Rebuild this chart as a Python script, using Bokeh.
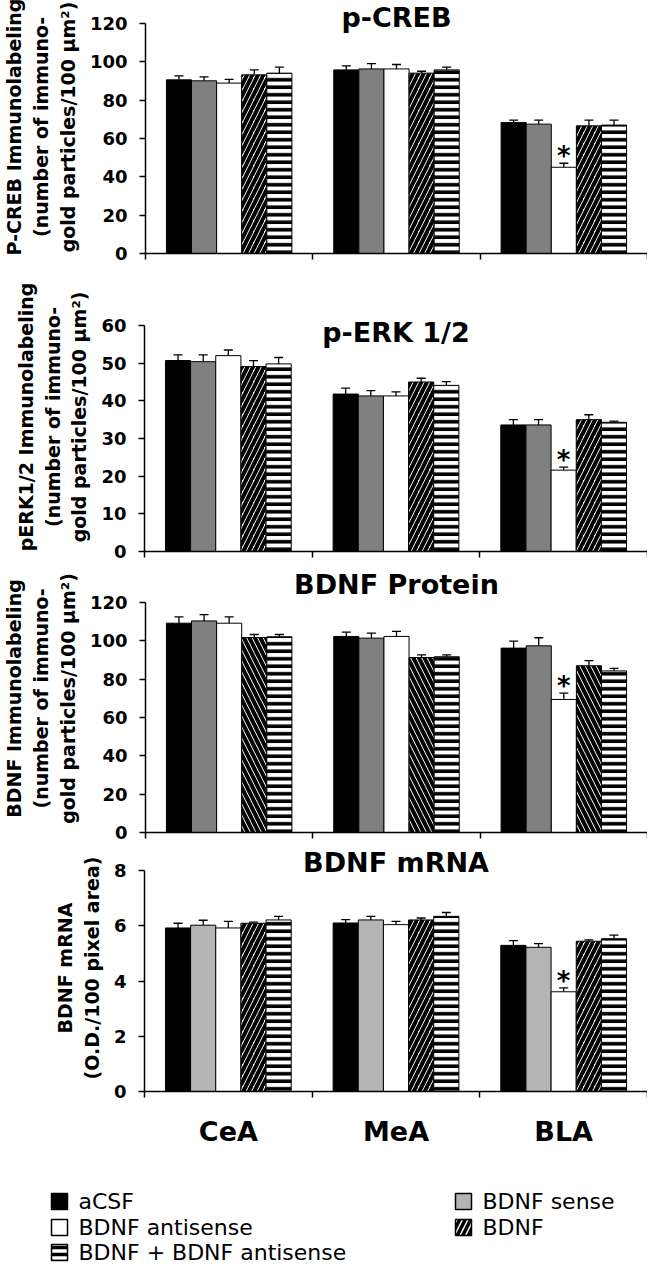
import numpy as np
from bokeh.plotting import figure
from bokeh.layouts import column
from bokeh.models import (ColumnDataSource, FixedTicker, LinearAxis, Range1d,
                          Whisker, TeeHead, Label)
from bokeh.core.properties import value
from bokeh.embed import file_html
from bokeh.resources import INLINE

regions = ["CeA", "MeA", "BLA"]
series = ["aCSF", "BDNF sense", "BDNF antisense", "BDNF", "BDNF + BDNF antisense"]

# ---- p-CREB (particles / 100 um2) ----
pcreb_acsf = [90.6, 95.8, 68.3]
pcreb_sense = [90.1, 96.3, 67.5]
pcreb_anti = [88.9, 96.3, 45.0]
pcreb_bdnf = [93.2, 94.1, 66.6]
pcreb_both = [94.1, 95.8, 67.0]
pcreb_acsf_err = [2.1, 2.1, 1.3]
pcreb_sense_err = [2.1, 2.8, 2.1]
pcreb_anti_err = [1.9, 2.3, 2.1]
pcreb_bdnf_err = [2.6, 1.0, 3.0]
pcreb_both_err = [3.1, 1.4, 2.6]

# ---- p-ERK 1/2 ----
perk_acsf = [50.7, 41.8, 33.6]
perk_sense = [50.4, 41.3, 33.6]
perk_anti = [52.0, 41.3, 21.6]
perk_bdnf = [49.1, 45.0, 35.0]
perk_both = [49.8, 44.1, 34.3]
perk_acsf_err = [1.5, 1.6, 1.4]
perk_sense_err = [1.8, 1.4, 1.4]
perk_anti_err = [1.5, 1.1, 0.8]
perk_bdnf_err = [1.6, 1.0, 1.3]
perk_both_err = [1.7, 1.0, 0.3]

# ---- BDNF protein ----
prot_acsf = [109.2, 102.3, 96.2]
prot_sense = [110.4, 101.4, 97.4]
prot_anti = [109.2, 102.3, 69.4]
prot_bdnf = [101.7, 91.3, 87.0]
prot_both = [102.1, 91.7, 84.3]
prot_acsf_err = [3.3, 2.2, 3.6]
prot_sense_err = [3.3, 2.6, 4.2]
prot_anti_err = [3.3, 2.6, 3.3]
prot_bdnf_err = [1.6, 1.4, 2.7]
prot_both_err = [1.2, 1.0, 1.3]

# ---- BDNF mRNA (O.D./100 pixel area) ----
mrna_acsf = [5.92, 6.10, 5.29]
mrna_sense = [6.02, 6.21, 5.22]
mrna_anti = [5.92, 6.04, 3.61]
mrna_bdnf = [6.09, 6.21, 5.44]
mrna_both = [6.21, 6.34, 5.53]
mrna_acsf_err = [0.17, 0.12, 0.17]
mrna_sense_err = [0.18, 0.13, 0.13]
mrna_anti_err = [0.24, 0.12, 0.14]
mrna_bdnf_err = [0.04, 0.07, 0.05]
mrna_both_err = [0.13, 0.14, 0.13]

# significance (antisense vs others), per region
significant = [False, False, True]

pcreb_ticks = [0, 20, 40, 60, 80, 100, 120]
perk_ticks = [0, 10, 20, 30, 40, 50, 60]
prot_ticks = [0, 20, 40, 60, 80, 100, 120]
mrna_ticks = [0, 2, 4, 6, 8]

BOLD = "DejaVu Sans"
W = 647
LEFT = 144
BAR_W = 0.15


def make_panel(title, ylabel, means, errs, ticks, fig_top, data_top, data_bot,
               fig_bot, title_y, sense_color, bdnf_hatch, last=False):
    ymax = ticks[-1]
    data_px = data_bot - data_top
    yend = ymax * (data_bot - fig_top) / data_px
    p = figure(width=W, height=fig_bot - fig_top,
               x_range=Range1d(0, 3), y_range=Range1d(0, yend),
               output_backend="svg", toolbar_location=None,
               min_border_left=LEFT, min_border_right=0,
               min_border_top=0, min_border_bottom=fig_bot - data_bot,
               x_axis_type=None, y_axis_type=None, frame_align=False)
    p.outline_line_color = None
    p.xgrid.visible = False
    p.ygrid.visible = False
    p.background_fill_color = "white"

    fills = ["black", sense_color, "white", "white", "white"]
    hatches = [None, None, None, bdnf_hatch, "-"]
    hscale = [12, 12, 12, 11, 7.5]
    hweight = [1, 1, 1, 4, 3.6]
    for i in range(5):
        off = (i - 2) * BAR_W
        xs = [j + 0.5 + off for j in range(len(regions))]
        src = ColumnDataSource(dict(x=xs, top=means[i],
                                    upper=[m + e for m, e in zip(means[i], errs[i])]))
        kw = {}
        if hatches[i]:
            kw = dict(hatch_pattern=hatches[i], hatch_color="black",
                      hatch_scale=hscale[i], hatch_weight=hweight[i])
        p.vbar(x="x", top="top", bottom=0, width=BAR_W, source=src,
               fill_color=fills[i], line_color="black", line_width=1, **kw)
        wh = Whisker(base="x", lower="top", upper="upper", source=src,
                     dimension="height", line_color="black", line_width=1.3,
                     upper_head=TeeHead(size=9, line_color="black", line_width=1.3),
                     lower_head=None)
        p.add_layout(wh)
        if i == 2:
            sx = [x for x, s in zip(xs, significant) if s]
            sy = [u for u, s in zip(src.data["upper"], significant) if s]
            p.text(x=sx, y=sy, text=["*"] * len(sx), text_align="center",
                   text_baseline="alphabetic", y_offset=-7,
                   text_font=value(BOLD), text_font_style="bold",
                   text_font_size="26px", text_color="black")

    yax = LinearAxis(ticker=FixedTicker(ticks=ticks), bounds=(0, ymax))
    yax.axis_line_width = 1.5
    yax.axis_line_color = "black"
    yax.major_tick_out = 6
    yax.major_tick_in = 0
    yax.major_tick_line_width = 1.5
    yax.minor_tick_line_color = None
    yax.major_label_text_font = BOLD
    yax.major_label_text_font_style = "bold"
    yax.major_label_text_font_size = "18px"
    yax.major_label_text_color = "black"
    yax.major_label_standoff = 12
    yax.axis_label = ylabel
    yax.axis_label_text_font = BOLD
    yax.axis_label_text_font_style = "bold"
    yax.axis_label_text_font_size = "19px"
    yax.axis_label_text_line_height = 1.22
    yax.axis_label_text_color = "black"
    yax.axis_label_standoff = 8
    p.add_layout(yax, "left")

    xax = LinearAxis(ticker=FixedTicker(ticks=[0, 1, 2, 3]))
    xax.axis_line_width = 1.5
    xax.axis_line_color = "black"
    xax.major_tick_out = 6
    xax.major_tick_in = 0
    xax.major_tick_line_width = 1.5
    xax.minor_tick_line_color = None
    xax.major_label_text_font_size = "0px"
    xax.major_label_text_color = None
    xax.major_label_standoff = 0
    p.add_layout(xax, "below")

    if last:
        cax = LinearAxis(ticker=FixedTicker(ticks=[0.5, 1.5, 2.5]),
                         major_label_overrides={0.5: regions[0], 1.5: regions[1], 2.5: regions[2]})
        cax.axis_line_color = None
        cax.major_tick_line_color = None
        cax.minor_tick_line_color = None
        cax.major_label_standoff = 12
        cax.major_label_text_font = BOLD
        cax.major_label_text_font_style = "bold"
        cax.major_label_text_font_size = "27px"
        cax.major_label_text_color = "black"
        p.add_layout(cax, "below")

    ty = ymax * (data_bot - title_y) / data_px
    p.add_layout(Label(x=1.5, y=ty, text=title, text_align="center",
                       text_baseline="middle", text_font=BOLD,
                       text_font_style="bold", text_font_size="27px",
                       text_color="black"))
    return p


p1 = make_panel("p-CREB",
                "P-CREB Immunolabeling\n(number of immuno-\ngold particles/100 \u03bcm\u00b2)",
                [pcreb_acsf, pcreb_sense, pcreb_anti, pcreb_bdnf, pcreb_both],
                [pcreb_acsf_err, pcreb_sense_err, pcreb_anti_err, pcreb_bdnf_err, pcreb_both_err],
                pcreb_ticks, 8, 31, 261, 290, 25, "#808080", "/")
p2 = make_panel("p-ERK 1/2",
                "pERK1/2 Immunolabeling\n(number of immuno-\ngold particles/100 \u03bcm\u00b2)",
                [perk_acsf, perk_sense, perk_anti, perk_bdnf, perk_both],
                [perk_acsf_err, perk_sense_err, perk_anti_err, perk_bdnf_err, perk_both_err],
                perk_ticks, 290, 333, 559, 572, 340, "#808080", "/")
p3 = make_panel("BDNF Protein",
                "BDNF Immunolabeling\n(number of immuno-\ngold particles/100 \u03bcm\u00b2)",
                [prot_acsf, prot_sense, prot_anti, prot_bdnf, prot_both],
                [prot_acsf_err, prot_sense_err, prot_anti_err, prot_bdnf_err, prot_both_err],
                prot_ticks, 572, 610, 840, 852, 592, "#808080", "\\")
p4 = make_panel("BDNF mRNA",
                "BDNF mRNA\n(O.D./100 pixel area)",
                [mrna_acsf, mrna_sense, mrna_anti, mrna_bdnf, mrna_both],
                [mrna_acsf_err, mrna_sense_err, mrna_anti_err, mrna_bdnf_err, mrna_both_err],
                mrna_ticks, 852, 878, 1099, 1160, 870, "#b4b4b4", "/", last=True)

# ---- legend panel ----
LH = 112
lg = figure(width=W, height=LH, x_range=Range1d(0, W), y_range=Range1d(LH, 0),
            output_backend="svg", toolbar_location=None,
            min_border_left=0, min_border_right=0, min_border_top=0, min_border_bottom=0,
            x_axis_type=None, y_axis_type=None, frame_align=False)
lg.outline_line_color = None
lg.xgrid.visible = False
lg.ygrid.visible = False

leg_labels = ["aCSF", "BDNF antisense", "BDNF + BDNF antisense", "BDNF sense", "BDNF"]
leg_fill = ["black", "white", "white", "#b4b4b4", "white"]
leg_hatch = [None, None, "-", None, "/"]
leg_col = [0, 0, 0, 1, 1]
leg_row = [0, 1, 2, 0, 1]
col_x = [51, 455]
row_y = [49, 75, 100]
BOX = 16
for lab, fc, hp, c, r in zip(leg_labels, leg_fill, leg_hatch, leg_col, leg_row):
    kw = {}
    if hp:
        kw = dict(hatch_pattern=hp, hatch_color="black",
                  hatch_scale=7 if hp == "-" else 11, hatch_weight=3.5)
    lg.rect(x=[col_x[c] + BOX / 2], y=[row_y[r]], width=BOX, height=BOX,
            fill_color=fc, line_color="black", line_width=1.5, **kw)
    lg.text(x=[col_x[c] + BOX + 11], y=[row_y[r]], text=[lab],
            text_align="left", text_baseline="middle",
            text_font=value("DejaVu Sans"), text_font_size="22px",
            text_color="black")

layout = column(p1, p2, p3, p4, lg, spacing=0)
open("out.html", "w").write(file_html(layout, INLINE))
